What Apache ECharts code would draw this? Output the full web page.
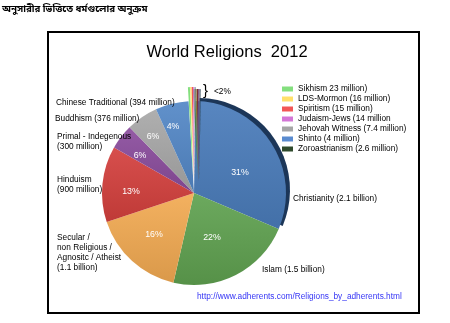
<!DOCTYPE html>
<html>
<head>
<meta charset="utf-8">
<script src="https://cdn.jsdelivr.net/npm/echarts@6/dist/echarts.min.js"></script>
<style>
html,body{margin:0;padding:0;background:#fff;}
#chart{width:450px;height:323px;}
</style>
</head>
<body>
<div id="chart"></div>
<script>
// ---- data ----
const categories = ['Christianity','Islam','Secular','Hinduism','Primal - Indegenous','Buddhism','Chinese Traditional',
  'Sikhism 23 million)','LDS-Mormon (16 million)','Spiritism (15 million)','Judaism-Jews (14 million',
  'Jehovah Witness (7.4 million)','Shinto (4 million)','Zoroastrianism (2.6 million)'];
const adherentsMillions = [2100,1500,1100,900,300,376,394,23,16,15,14,7.4,4,2.6];
const percentLabels = ['31%','22%','16%','13%','6%','6%','4%','','','','','','',''];
const nameLabels = ['Christianity (2.1 billion)','Islam (1.5 billion)',
  'Secular /\nnon Religious /\nAgnositc / Atheist\n(1.1 billion)','Hinduism\n(900 million)',
  'Primal - Indegenous\n(300 million)','Buddhism (376 million)','Chinese Traditional (394 million)',
  '','','','','','',''];
const legendNames = categories.slice(7);
const titleText = 'World Religions  2012';
const headingText = 'অনুসারীর ভিত্তিতে ধর্মগুলোর অনুক্রম';
const sourceText = 'http://www.adherents.com/Religions_by_adherents.html';
const smallNote = '<2%';

// ---- styles ----
const colors = ['#4a7cbb','#5fa150','#f2aa52','#d4403d','#8b4d9d','#a8a8a8','#5387c7',
  '#84df7e','#ffe06a','#f25656','#d476d6','#a6a6a6','#5a8bcf','#2f4a2c'];
const edgeColors = ['#1c3658','','','','','','',
  '#4f8a4a','#8c7a30','#7a2f2f','#6d3a70','#5a5a5a','#2e4c78','#1d2e1b'];
const SANS = "'Liberation Sans',Arial,sans-serif";
const SMALL = 8.3;
const center = [194,193], radius = 92;
const nameLabelPos = [[293,199],[262,270],[57,253],[57,185],[57,142],[55,119],[56,103]];
const pctLabelPos = [[240,173],[212,238],[154,235],[131,192],[140,156],[153,137],[173,127]];

function mix(hex, target, t){
  const a = parseInt(hex.slice(1),16), b = parseInt(target.slice(1),16);
  const ch = s => Math.round(((a>>s)&255)*(1-t) + ((b>>s)&255)*t);
  return 'rgb('+ch(16)+','+ch(8)+','+ch(0)+')';
}
function shade(c){
  return new echarts.graphic.LinearGradient(0,0,0,1,[
    {offset:0, color:mix(c,'#ffffff',0.08)},
    {offset:1, color:mix(c,'#000000',0.1)}
  ]);
}

const mainData = categories.map((c,i)=>{
  const d = {name:c, value:adherentsMillions[i], itemStyle:{color: i<7 ? shade(colors[i]) : colors[i]}};
  if (edgeColors[i]) {
    d.itemStyle.shadowColor = edgeColors[i];
    d.itemStyle.shadowBlur = 0;
    d.itemStyle.shadowOffsetX = i===0 ? 4 : 5;
    d.itemStyle.shadowOffsetY = i===0 ? -3 : 2;
  }
  if (i>=7) d.selected = true;
  return d;
});
const pctData = categories.map((c,i)=>({name:'pct-'+c, value:adherentsMillions[i]}));

const chart = echarts.init(document.getElementById('chart'), null, {renderer:'canvas'});
chart.setOption({
  animation:false,
  backgroundColor:'#fff',
  color:colors,
  title:[
    {text:headingText, left:2, top:5, padding:0, textStyle:{fontSize:9.7, fontWeight:'bold', color:'#000',
      fontFamily:"'Noto Sans Bengali','Noto Serif Bengali','Lohit Bengali','Noto Sans',sans-serif"}},
    {text:titleText, left:227, top:44, padding:0, textAlign:'center', textStyle:{fontSize:16.5, fontWeight:'normal', color:'#000', fontFamily:SANS}}
  ],
  legend:{
    orient:'vertical', left:282, top:84, padding:0, itemGap:0, itemWidth:11, itemHeight:5,
    icon:'rect', data:legendNames, selectedMode:false,
    textStyle:{fontSize:SMALL, lineHeight:10, color:'#000', fontFamily:SANS}
  },
  graphic:[
    {type:'rect', shape:{x:48, y:32, width:371, height:281}, style:{fill:'none', stroke:'#000', lineWidth:2}, z:-1},
    {type:'text', x:203, y:91, style:{text:'}', fontSize:15, fill:'#000', fontFamily:SANS, verticalAlign:'middle'}},
    {type:'text', x:214, y:92, style:{text:smallNote, fontSize:SMALL, fill:'#000', fontFamily:SANS, verticalAlign:'middle'}},
    {type:'text', x:197, y:297, style:{text:sourceText, fontSize:SMALL, fill:'#3535f5', fontFamily:SANS, verticalAlign:'middle'}}
  ],
  series:[
    {
      type:'pie', center:center, radius:radius, startAngle:89, clockwise:true,
      selectedMode:'multiple', selectedOffset:14, avoidLabelOverlap:false,
      emphasis:{disabled:true},
      data:mainData,
      label:{show:true, position:'outside', formatter:p=>nameLabels[p.dataIndex],
        fontSize:SMALL, lineHeight:10, color:'#000', fontFamily:SANS},
      labelLine:{show:false},
      labelLayout:function(p){
        const pos = nameLabelPos[p.dataIndex];
        if(!pos) return {};
        return {x:pos[0], y:pos[1], align:'left', verticalAlign:'middle'};
      }
    },
    {
      type:'pie', center:center, radius:radius, startAngle:89, clockwise:true, silent:true,
      avoidLabelOverlap:false, emphasis:{disabled:true},
      data:pctData,
      itemStyle:{color:'rgba(0,0,0,0)'},
      label:{show:true, position:'inside', formatter:p=>percentLabels[p.dataIndex],
        fontSize:8.8, color:'#fff', fontFamily:SANS},
      labelLine:{show:false},
      labelLayout:function(p){
        const pos = pctLabelPos[p.dataIndex];
        if(!pos) return {};
        return {x:pos[0], y:pos[1], align:'center', verticalAlign:'middle'};
      }
    }
  ]
});
</script>
</body>
</html>
